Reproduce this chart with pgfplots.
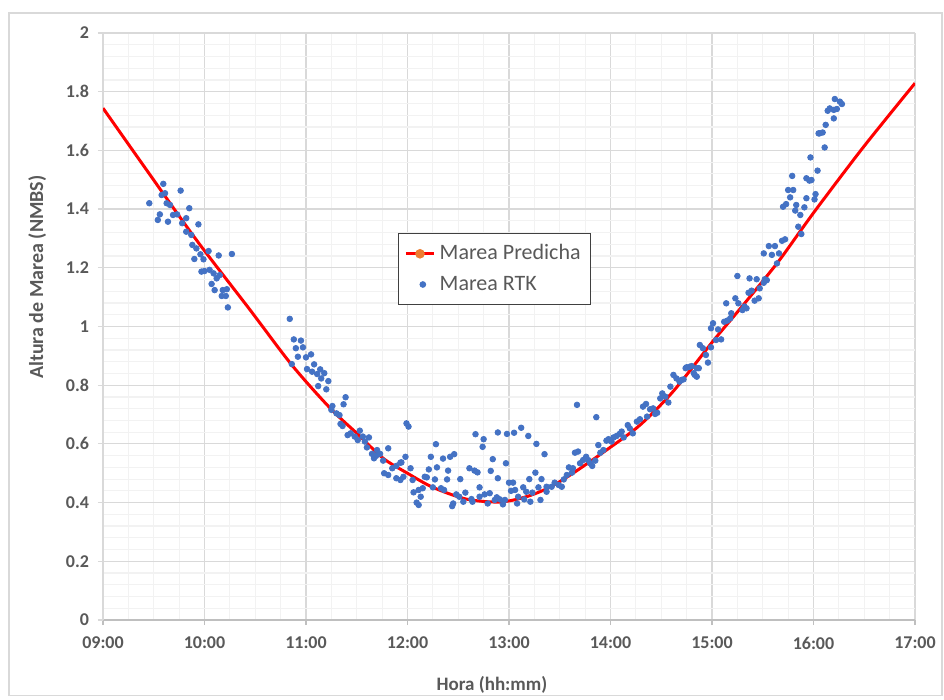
\documentclass[border=0pt]{standalone}
\usepackage{fontspec}
\setmainfont{Carlito}
\usepackage{pgfplots}
\pgfplotsset{compat=1.18}
\definecolor{gridmaj}{RGB}{217,217,217}
\definecolor{gridmin}{RGB}{242,242,242}
\definecolor{axisgray}{RGB}{191,191,191}
\definecolor{txt}{RGB}{89,89,89}
\definecolor{rtk}{RGB}{68,114,196}
\definecolor{predorange}{RGB}{237,125,49}
\definecolor{legframe}{RGB}{64,64,64}
\definecolor{outerframe}{RGB}{217,217,217}
\begin{document}
\begin{tikzpicture}
\begin{axis}[
    scale only axis,
    width=406pt, height=293.5pt,
    xmin=9, xmax=17, ymin=0, ymax=2,
    xtick={9,10,...,17},
    xticklabels={09:00,10:00,11:00,12:00,13:00,14:00,15:00,16:00,17:00},
    ytick={0,0.2,...,2.01},
    minor x tick num=3,
    minor y tick num=4,
    grid=both,
    major grid style={gridmaj, line width=0.6pt},
    minor grid style={gridmin, line width=0.6pt},
    axis lines=left,
    axis line style={-},
    x axis line style={axisgray, line width=0.7pt},
    y axis line style={gridmaj, line width=0.6pt},
    tick align=outside,
    major tick length=2.5pt,
    minor tick length=0pt,
    tick style={gridmaj, line width=0.6pt},
    x tick style={axisgray},
    /pgf/number format/assume math mode=true,
    ticklabel style={font=\fontsize{9}{11}\selectfont\bfseries, text=txt},
    xticklabel style={yshift=-2.5pt},
    yticklabel style={xshift=-1pt},
    xlabel={Hora (hh:mm)},
    ylabel={Altura de Marea (NMBS)},
    xlabel style={font=\fontsize{9.5}{11}\selectfont\bfseries, text=txt,
        at={(ticklabel cs:0.479)}, anchor=north, yshift=-6.5pt},
    ylabel style={font=\fontsize{10}{12}\selectfont\bfseries, text=txt,
        at={(ticklabel cs:0.584)}, anchor=south, yshift=3pt},
    legend style={at={(0.363,0.659)}, anchor=north west, draw=legframe,
        line width=0.5pt, font=\fontsize{11}{13}\selectfont, text=txt,
        row sep=2.5pt, inner xsep=3pt, inner ysep=3.5pt},
    legend cell align=left,
]
\addplot[red, line width=1.5pt, smooth, tension=0.5,
    legend image code/.code={
        \draw[red, line width=1.5pt] (0cm,0cm) -- (0.5cm,0cm);
        \fill[predorange] (0.25cm,0cm) circle (1.6pt);}]
coordinates {
(9.00,1.744)(9.43,1.533)(9.92,1.295)(10.45,1.056)(10.86,0.869)(11.24,0.721)
(11.52,0.630)(11.76,0.551)(12.00,0.500)(12.25,0.452)(12.58,0.412)(12.91,0.402)
(13.17,0.420)(13.40,0.452)(13.63,0.500)(13.96,0.579)(14.29,0.664)(14.62,0.780)
(15.01,0.950)(15.30,1.070)(15.64,1.215)(15.87,1.325)(16.06,1.415)(16.50,1.615)
(17.00,1.829)
};
\addlegendentry{Marea Predicha}
\addplot[only marks, mark=*, mark size=1.4pt, color=rtk, mark options={fill=rtk, draw=rtk}]
coordinates {
(9.594,1.486)(9.765,1.463)(9.456,1.420)(9.578,1.448)(9.611,1.454)(9.627,1.420)
(9.66,1.414)(9.85,1.403)(9.56,1.382)(9.54,1.363)(9.64,1.357)(9.69,1.380)
(9.73,1.382)(9.82,1.369)(9.78,1.352)(9.94,1.348)(9.82,1.323)(9.87,1.312)
(9.88,1.278)(9.92,1.266)(10.04,1.257)(9.90,1.230)(9.96,1.246)(9.99,1.229)
(10.14,1.242)(10.27,1.247)(9.97,1.187)(10.00,1.189)(10.05,1.193)(10.09,1.181)
(10.12,1.164)(10.15,1.175)(10.07,1.145)(10.10,1.124)(10.18,1.124)(10.22,1.127)
(10.17,1.104)(10.21,1.104)(10.23,1.065)
(10.84,1.026)(10.88,0.956)(10.95,0.952)(10.90,0.926)(10.97,0.929)(10.92,0.897)
(11.00,0.895)(11.05,0.905)(10.86,0.872)(11.08,0.871)(11.01,0.855)(11.06,0.846)
(11.14,0.854)(11.11,0.838)(11.18,0.841)(11.15,0.823)(11.22,0.814)(11.12,0.797)
(11.20,0.786)(11.39,0.759)(11.37,0.735)(11.26,0.729)(11.25,0.716)(11.30,0.704)
(11.33,0.698)(11.34,0.668)(11.36,0.661)(11.41,0.630)(11.44,0.636)(11.48,0.625)
(11.53,0.645)(11.51,0.613)(11.56,0.625)(11.58,0.608)(11.62,0.622)(11.60,0.588)
(11.65,0.566)(11.70,0.579)(11.69,0.559)(11.73,0.566)(11.67,0.551)(11.76,0.543)
(11.81,0.585)(11.77,0.500)(11.81,0.494)(11.85,0.517)(11.89,0.525)(11.93,0.536)
(11.98,0.556)(11.89,0.483)(11.93,0.477)(11.96,0.488)(12.03,0.517)(12.05,0.477)
(11.99,0.670)(12.01,0.659)(12.06,0.435)(12.09,0.400)(12.11,0.392)(12.11,0.443)
(11.94,0.537)
(12.13,0.420)(12.15,0.449)(12.17,0.488)(12.19,0.486)(12.21,0.513)(12.23,0.556)
(12.25,0.452)(12.27,0.479)(12.28,0.599)(12.29,0.520)(12.33,0.449)(12.35,0.550)
(12.36,0.443)(12.39,0.479)(12.40,0.509)(12.42,0.556)(12.44,0.388)(12.45,0.397)
(12.46,0.565)(12.48,0.428)(12.51,0.420)(12.52,0.480)(12.55,0.403)(12.57,0.434)
(12.61,0.517)(12.63,0.412)(12.64,0.403)(12.66,0.509)(12.67,0.633)(12.69,0.503)
(12.71,0.452)(12.71,0.420)(12.74,0.590)(12.75,0.616)(12.76,0.428)(12.79,0.397)
(12.81,0.432)(12.82,0.508)(12.84,0.548)(12.86,0.409)(12.88,0.418)(12.89,0.483)
(12.89,0.639)(12.91,0.411)(12.94,0.394)(12.96,0.409)(12.97,0.534)(12.98,0.634)
(13.00,0.468)(13.02,0.440)(13.04,0.468)(13.05,0.638)(13.06,0.443)(13.08,0.397)
(13.09,0.420)(13.12,0.655)(13.14,0.452)(13.15,0.411)(13.17,0.437)(13.19,0.627)
(13.20,0.480)(13.21,0.403)(13.23,0.434)(13.26,0.502)(13.27,0.600)(13.29,0.452)
(13.31,0.409)(13.32,0.480)(13.35,0.565)(13.37,0.454)
(13.67,0.733)(13.86,0.691)(13.37,0.437)(13.42,0.454)(13.45,0.468)(13.49,0.460)
(13.52,0.454)(13.54,0.479)(13.57,0.494)(13.59,0.520)(13.62,0.502)(13.63,0.517)
(13.65,0.570)(13.68,0.574)(13.70,0.534)(13.73,0.545)(13.76,0.556)(13.78,0.545)
(13.80,0.534)(13.82,0.525)(13.85,0.543)(13.88,0.596)(13.90,0.570)(13.93,0.579)
(13.96,0.611)(13.98,0.616)(14.01,0.608)(14.03,0.622)(14.06,0.627)(14.09,0.634)
(14.11,0.642)(14.13,0.622)(14.17,0.664)(14.19,0.653)(14.22,0.636)(14.26,0.676)
(14.29,0.684)(14.32,0.727)(14.35,0.736)(14.36,0.693)(14.39,0.718)(14.42,0.721)
(14.44,0.702)(14.46,0.706)(14.49,0.755)(14.51,0.772)(14.54,0.761)(14.57,0.741)
(14.59,0.795)(14.62,0.835)(14.65,0.823)(14.68,0.812)(14.72,0.820)(14.75,0.861)
(14.80,0.865)(14.83,0.835)(14.85,0.858)
(14.70,0.818)(14.74,0.858)(14.78,0.863)(14.82,0.841)(14.85,0.829)(14.87,0.858)
(14.88,0.937)(14.91,0.926)(14.94,0.903)(14.96,0.877)(14.99,0.929)(14.99,0.994)
(15.01,1.011)(15.04,0.954)(15.06,0.990)(15.09,0.956)(15.12,1.016)(15.14,1.079)
(15.15,1.020)(15.18,1.028)(15.19,1.045)(15.23,1.096)(15.26,1.079)(15.25,1.172)
(15.30,1.056)(15.32,1.068)(15.34,1.062)(15.36,1.115)(15.37,1.164)(15.39,1.122)
(15.42,1.088)(15.46,1.096)(15.44,1.161)(15.47,1.130)(15.51,1.149)(15.52,1.161)
(15.54,1.158)(15.51,1.249)(15.56,1.274)(15.59,1.244)(15.62,1.274)(15.64,1.215)
(15.66,1.249)(15.69,1.292)(15.72,1.297)(15.88,1.315)(15.85,1.340)(15.70,1.408)
(15.73,1.417)(15.82,1.395)(15.87,1.380)(15.83,1.414)(15.91,1.406)(15.77,1.440)
(15.75,1.465)(15.80,1.465)(15.79,1.513)(15.93,1.437)(16.01,1.433)(16.02,1.451)
(15.93,1.505)(15.96,1.497)(15.98,1.499)(15.97,1.576)(16.04,1.531)(16.05,1.658)
(16.21,1.775)(16.26,1.766)(16.28,1.758)(16.16,1.743)(16.20,1.738)(16.14,1.735)
(16.23,1.741)(16.20,1.709)(16.12,1.687)(16.06,1.658)(16.09,1.661)(16.11,1.610)
};
\addlegendentry{Marea RTK}
\coordinate (sw) at (rel axis cs:0,0);
\coordinate (ne) at (rel axis cs:1,1);
\end{axis}
\draw[outerframe, line width=0.6pt] ([xshift=-47pt,yshift=-37.7pt]sw) rectangle ([xshift=13.5pt,yshift=10pt]ne);
\path ([xshift=-51.5pt,yshift=-38.2pt]sw) rectangle ([xshift=14.5pt,yshift=16.5pt]ne);
\end{tikzpicture}
\end{document}
